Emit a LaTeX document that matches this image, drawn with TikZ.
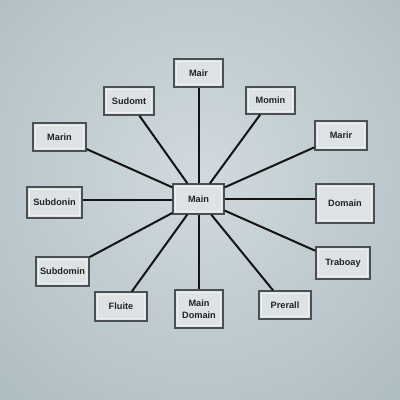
\documentclass[tikz,border=0pt]{standalone}
\usepackage{fontspec}
\setmainfont{Liberation Sans}
\definecolor{bgin}{HTML}{D1DADE}
\definecolor{bgout}{HTML}{8FA3AA}
\definecolor{boxfill}{HTML}{DDE3E5}
\definecolor{boxline}{HTML}{4A5053}
\definecolor{boxinner}{HTML}{EEF1F2}
\definecolor{txt}{HTML}{222222}
\begin{document}
\begin{tikzpicture}[x=1pt,y=-1pt,
  box/.style={draw=boxline, line width=1.3pt, fill=boxfill, inner sep=0pt,
    font=\bfseries\fontsize{9.2}{10.5}\selectfont, text=txt, align=center,
    path picture={\draw[boxinner, line width=0.8pt]
      ([shift={(2.4pt,-2.4pt)}]path picture bounding box.north west) rectangle
      ([shift={(-2.4pt,2.4pt)}]path picture bounding box.south east);}},
  link/.style={draw=black!92, line width=2pt}]
\useasboundingbox (0,0) rectangle (400,400);
\begin{scope}
\clip (0,0) rectangle (400,400);
\shade[inner color=bgin, outer color=bgout] (200,175) circle (570);
\end{scope}
\node[box, minimum width=51pt, minimum height=30pt] (main) at (198.5,199) {Main};
\node[box, minimum width=49pt, minimum height=28pt] (mair) at (198.5,73) {Mair};
\node[box, minimum width=50pt, minimum height=28pt] (sudomt) at (129,101) {Sudomt};
\node[box, minimum width=49pt, minimum height=27pt] (momin) at (270.5,100.5) {Momin};
\node[box, minimum width=53pt, minimum height=28pt] (marin) at (59.5,137) {Marin};
\node[box, minimum width=52pt, minimum height=29pt] (marir) at (341,135.5) {Marir};
\node[box, minimum width=55pt, minimum height=31pt] (subdonin) at (54.5,202.5) {Subdonin};
\node[box, minimum width=58pt, minimum height=39pt] (domain) at (345,203.5) {Domain};
\node[box, minimum width=53pt, minimum height=29pt] (subdomin) at (62.5,271.5) {Subdomin};
\node[box, minimum width=54pt, minimum height=32pt] (traboay) at (343,263) {Traboay};
\node[box, minimum width=52pt, minimum height=29pt] (fluite) at (121,306.5) {Fluite};
\node[box, minimum width=48pt, minimum height=38pt] (maindomain) at (199,309) {Main\\[1pt]Domain};
\node[box, minimum width=52pt, minimum height=28pt] (prerall) at (285,305) {Prerall};
\foreach \n in {sudomt,momin,marin,marir,subdomin,traboay,fluite,prerall}
  \draw[link] (main) -- (\n);
\draw[link] (main.north) -- (main.north |- mair.south);
\draw[link] (main.south) -- (main.south |- maindomain.north);
\draw[link] ([yshift=-1pt]main.west) -- ([yshift=-1pt]main.west -| subdonin.east);
\draw[link] (main.east) -- (main.east -| domain.west);
\end{tikzpicture}
\end{document}
